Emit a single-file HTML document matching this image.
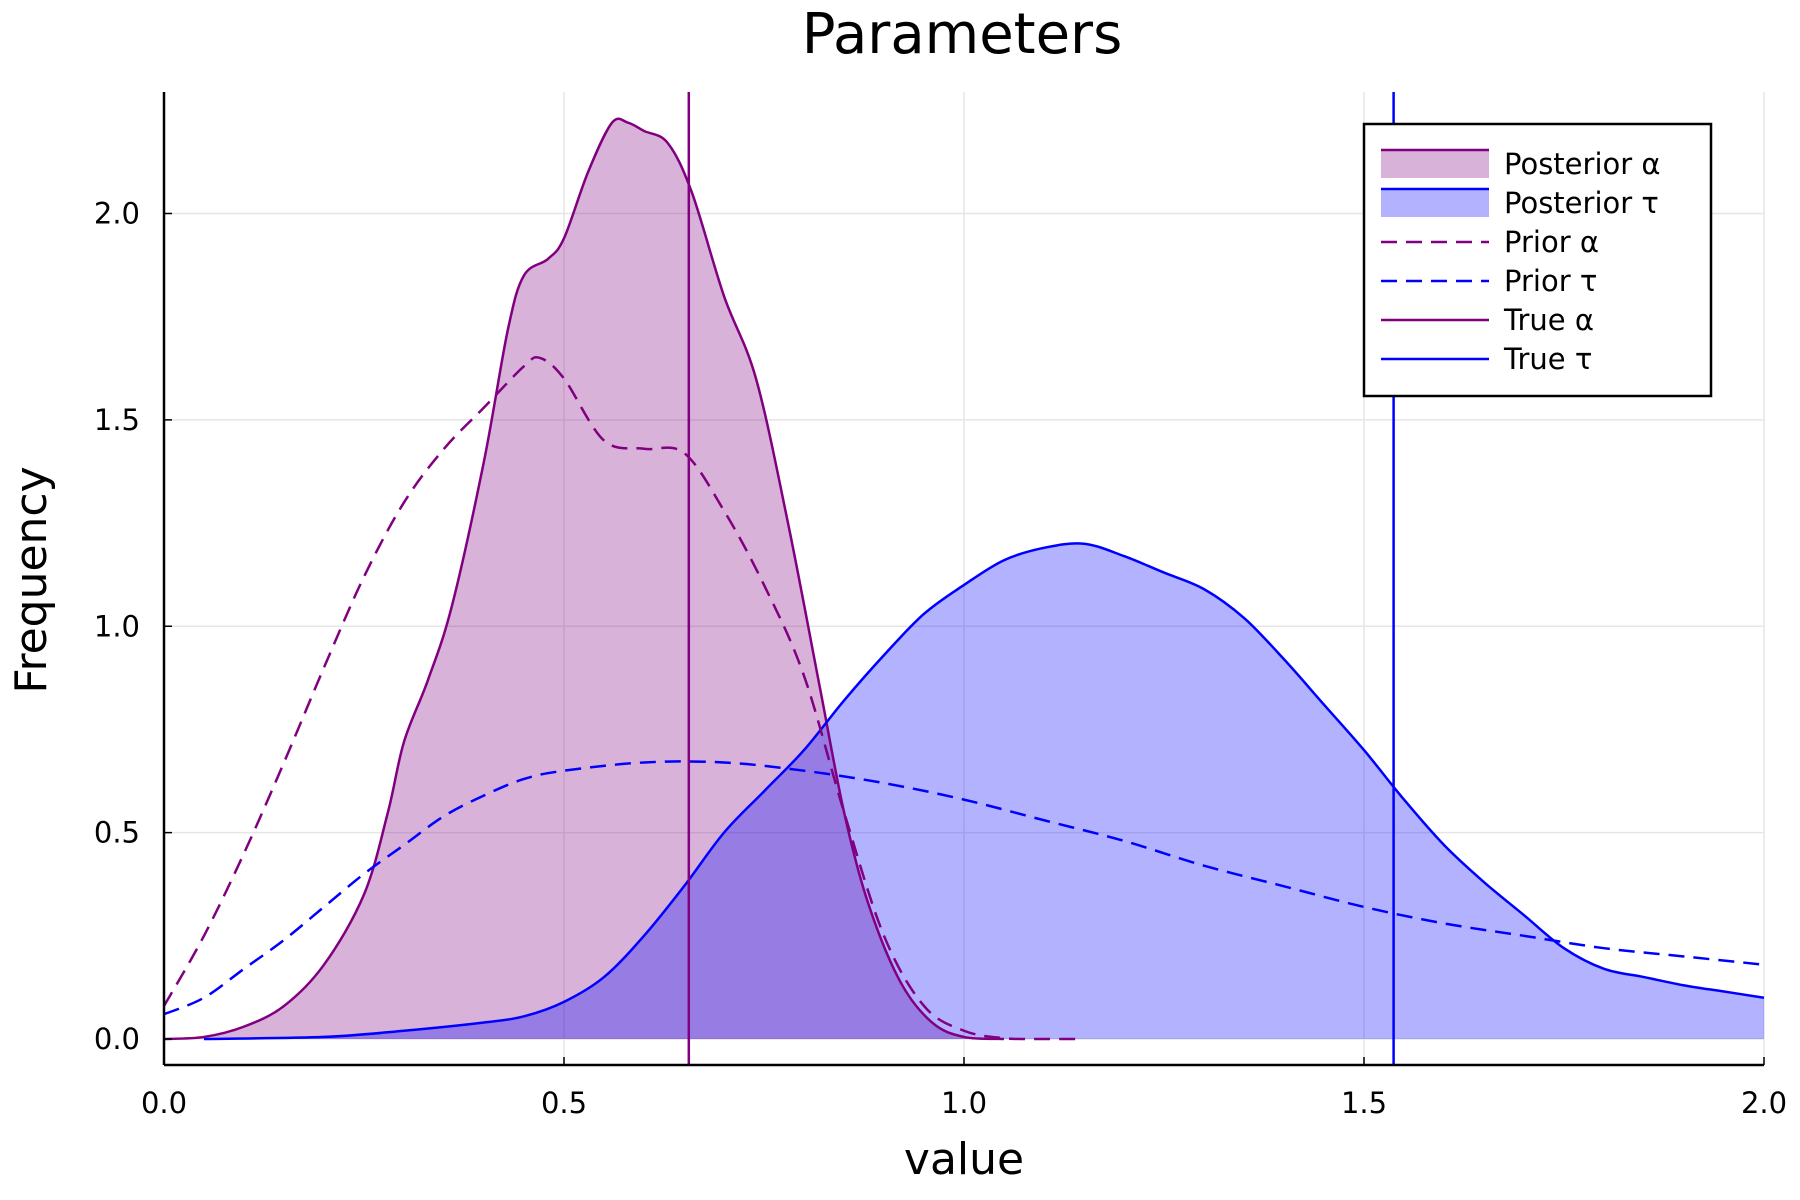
<!DOCTYPE html>
<html><head><meta charset="utf-8"><style>
html,body{margin:0;padding:0;background:#fff;}
svg{display:block;font-family:"DejaVu Sans","Liberation Sans",sans-serif;}
</style></head><body>
<svg id="chart" width="1800" height="1200" viewBox="0 0 1800 1200" xmlns="http://www.w3.org/2000/svg">
<rect width="1800" height="1200" fill="#fff"/>
<g id="grid"></g>
<g id="marks"></g>
<g id="axes"></g>
<text x="962" y="53" font-size="56" text-anchor="middle">Parameters</text>
<text x="964" y="1174" font-size="44" text-anchor="middle">value</text>
<text x="0" y="0" font-size="44" text-anchor="middle" transform="translate(46,580) rotate(-90)">Frequency</text>
<g id="legend"></g>
</svg>
<script>
const xTicks=[0,0.5,1,1.5,2];
const xTickLabels=["0.0","0.5","1.0","1.5","2.0"];
const yTicks=[0,0.5,1,1.5,2];
const yTickLabels=["0.0","0.5","1.0","1.5","2.0"];
const postAlphaX=[0,0.05,0.1,0.15,0.2,0.25,0.28,0.3,0.33,0.36,0.4,0.43,0.45,0.48,0.5,0.53,0.56,0.58,0.6,0.63,0.66,0.7,0.74,0.78,0.82,0.85,0.88,0.92,0.96,1.0,1.05];
const postAlphaY=[0,0.005,0.03,0.08,0.18,0.35,0.55,0.72,0.87,1.05,1.4,1.72,1.85,1.89,1.94,2.1,2.22,2.22,2.2,2.17,2.05,1.8,1.6,1.25,0.85,0.55,0.33,0.14,0.04,0.005,0];
const postTauX=[0.05,0.2,0.3,0.4,0.45,0.5,0.55,0.6,0.65,0.7,0.75,0.8,0.85,0.9,0.95,1.0,1.05,1.1,1.15,1.2,1.25,1.3,1.35,1.4,1.45,1.5,1.55,1.6,1.65,1.7,1.75,1.8,1.85,1.9,1.95,2.0];
const postTauY=[0,0.005,0.02,0.04,0.055,0.09,0.15,0.25,0.37,0.5,0.6,0.7,0.82,0.93,1.03,1.1,1.16,1.19,1.2,1.17,1.13,1.09,1.02,0.92,0.81,0.7,0.58,0.47,0.38,0.3,0.22,0.17,0.15,0.13,0.115,0.1];
const priorAlphaX=[0,0.05,0.1,0.15,0.2,0.25,0.3,0.35,0.4,0.45,0.47,0.5,0.55,0.6,0.65,0.7,0.75,0.8,0.85,0.9,0.95,1.0,1.05,1.1,1.14];
const priorAlphaY=[0.08,0.25,0.45,0.67,0.9,1.12,1.3,1.43,1.53,1.63,1.65,1.6,1.45,1.43,1.42,1.28,1.1,0.88,0.55,0.25,0.08,0.02,0.002,0,0];
const priorTauX=[0,0.05,0.1,0.15,0.2,0.25,0.3,0.35,0.4,0.45,0.5,0.6,0.7,0.8,0.9,1.0,1.1,1.2,1.3,1.4,1.5,1.6,1.7,1.8,1.9,2.0];
const priorTauY=[0.06,0.1,0.17,0.24,0.32,0.4,0.47,0.54,0.59,0.63,0.65,0.67,0.67,0.65,0.62,0.58,0.53,0.48,0.42,0.37,0.32,0.28,0.25,0.22,0.2,0.18];
const trueAlpha=[0.656];
const trueTau=[1.537];

const X0=164,X1=1764,Y0=1039,Y2=213.5,TOP=92,BOT=1065;
const sx=v=>X0+(X1-X0)*v/2;
const sy=v=>Y0+(Y2-Y0)*v/2;
const NS="http://www.w3.org/2000/svg";
function mk(tag,attrs,parent){const e=document.createElementNS(NS,tag);for(const k in attrs)e.setAttribute(k,attrs[k]);parent.appendChild(e);return e;}
function smooth(xs,ys){
  const p=xs.map((x,i)=>[sx(x),sy(ys[i])]);
  let d="M"+p[0][0]+","+p[0][1];
  for(let i=0;i<p.length-1;i++){
    const a=p[Math.max(0,i-1)],b=p[i],c=p[i+1],e=p[Math.min(p.length-1,i+2)];
    const c1=[b[0]+(c[0]-a[0])/6,b[1]+(c[1]-a[1])/6],c2=[c[0]-(e[0]-b[0])/6,c[1]-(e[1]-b[1])/6];
    d+=" C"+c1[0]+","+c1[1]+" "+c2[0]+","+c2[1]+" "+c[0]+","+c[1];
  }
  return d;
}
const grid=document.getElementById('grid'),marks=document.getElementById('marks'),axes=document.getElementById('axes'),legend=document.getElementById('legend');
xTicks.forEach((t,i)=>{
  const g=mk('line',{x1:sx(t),x2:sx(t),y1:TOP,y2:BOT,stroke:'#e6e6e6','stroke-width':1.5},grid);
  
  const l=mk('text',{x:sx(t),y:1113,'font-size':29,'text-anchor':'middle'},axes);l.textContent=xTickLabels[i];
  
  const tk=mk('line',{x1:sx(t),x2:sx(t),y1:BOT,y2:BOT-8,stroke:'#000','stroke-width':1.5},axes);
  
});
yTicks.forEach((t,i)=>{
  const g=mk('line',{x1:X0,x2:X1,y1:sy(t),y2:sy(t),stroke:'#e6e6e6','stroke-width':1.5},grid);
  
  const l=mk('text',{x:140,y:sy(t)+10,'font-size':29,'text-anchor':'end'},axes);l.textContent=yTickLabels[i];
  
  const tk=mk('line',{x1:X0,x2:X0+8,y1:sy(t),y2:sy(t),stroke:'#000','stroke-width':1.5},axes);
  
});
function area(xs,ys,fill,name){
  const d=smooth(xs,ys)+" L"+sx(xs[xs.length-1])+","+sy(0)+" L"+sx(xs[0])+","+sy(0)+" Z";
  const e=mk('path',{d:d,fill:fill,stroke:'none'},marks);
  
}
function line(xs,ys,color,dash,name){
  const e=mk('path',{d:smooth(xs,ys),fill:'none',stroke:color,'stroke-width':2.5,'stroke-dasharray':dash||'none'},marks);
  
}
area(postAlphaX,postAlphaY,'rgba(128,0,128,0.3)','posterior-alpha-fill');
area(postTauX,postTauY,'rgba(0,0,255,0.3)','posterior-tau-fill');
line(postAlphaX,postAlphaY,'#800080',null,'posterior-alpha-line');
line(postTauX,postTauY,'#0000ff',null,'posterior-tau-line');
line(priorAlphaX,priorAlphaY,'#800080','16 9','prior-alpha-line');
line(priorTauX,priorTauY,'#0000ff','16 9','prior-tau-line');
trueAlpha.forEach(v=>{const e=mk('line',{x1:sx(v),x2:sx(v),y1:TOP,y2:BOT,stroke:'#800080','stroke-width':2.5},marks);
  });
trueTau.forEach(v=>{const e=mk('line',{x1:sx(v),x2:sx(v),y1:TOP,y2:BOT,stroke:'#0000ff','stroke-width':2.5},marks);
  });
const al=mk('line',{x1:X0,x2:X0,y1:TOP,y2:BOT,stroke:'#000','stroke-width':2.5},axes);

const bl=mk('line',{x1:X0,x2:X1,y1:BOT,y2:BOT,stroke:'#000','stroke-width':2.5},axes);

const lb=mk('rect',{x:1364,y:124,width:347,height:272,fill:'#fff',stroke:'#000','stroke-width':2.5},legend);

const legendLabels=["Posterior α","Posterior τ","Prior α","Prior τ","True α","True τ"];
const legendColors=['#800080','#0000ff','#800080','#0000ff','#800080','#0000ff'];
legendLabels.forEach((lab,i)=>{
  const y=164+i*39;
  if(i<2){const r=mk('rect',{x:1381,y:y-14,width:108,height:28,fill:i==0?'rgba(128,0,128,0.3)':'rgba(0,0,255,0.3)'},legend);
    
    const t=mk('line',{x1:1381,x2:1489,y1:y-14,y2:y-14,stroke:legendColors[i],'stroke-width':2.5},legend);
    
  } else {
    const l=mk('line',{x1:1381,x2:1489,y1:y,y2:y,stroke:legendColors[i],'stroke-width':2.5,'stroke-dasharray':(i<4?'16 9':'none')},legend);
    
  }
  const t=mk('text',{x:1504,y:y+10,'font-size':29},legend);t.textContent=lab;
  
});
</script>
</body></html>
